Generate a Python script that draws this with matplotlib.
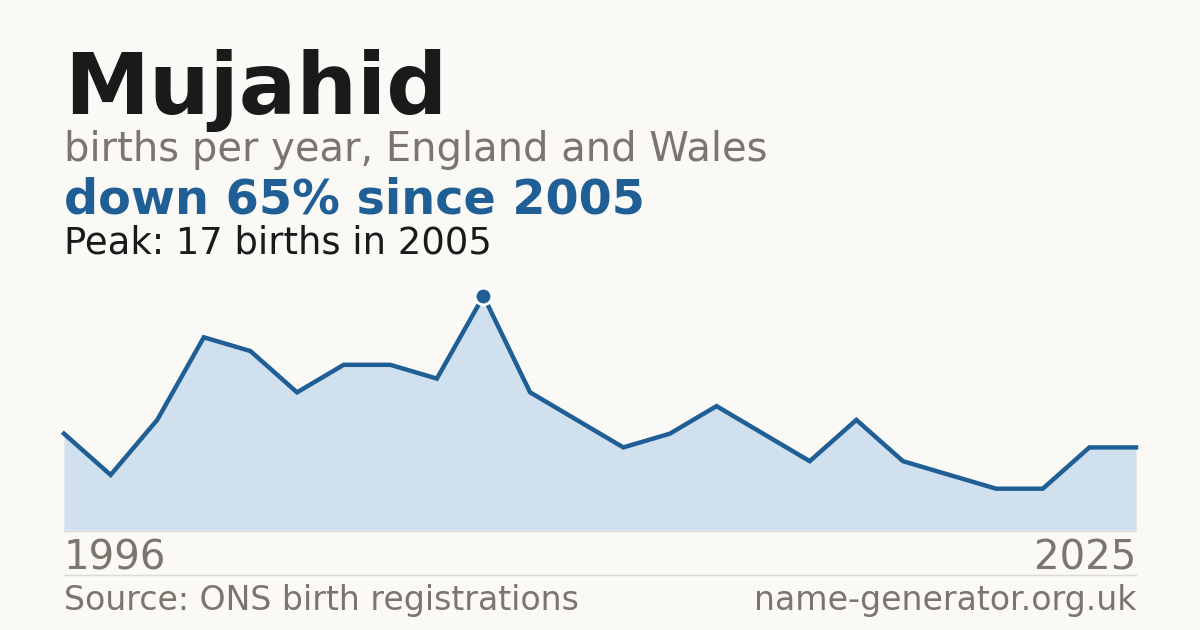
import matplotlib
matplotlib.use("Agg")
import matplotlib.pyplot as plt
from matplotlib.lines import Line2D

plt.rcParams['font.family'] = ['DejaVu Sans']

years = list(range(1996, 2020))
births = [7, 4, 8, 14, 13, 10, 12, 12, 11, 17, 10, 8, 6, 7, 9, 7, 5, 8, 5, 4, 3, 3, 6, 6]
first_label = "1996"
last_label = "2025"
peak_idx = births.index(max(births))

BG = "#faf9f5"
BLUE = "#1f5f96"
FILL = "#d0e0ef"
GREY = "#7a756d"
DARK = "#1a1a1a"

W, H = 1200, 630
fig = plt.figure(figsize=(12, 6.3), dpi=100, facecolor=BG)

def fy(px):
    return 1 - px / H

ax = fig.add_axes([64 / W, (H - 530) / H, 1072 / W, 234 / H])
ax.set_facecolor(BG)
xs = list(range(len(births)))
ax.fill_between(xs, births, 0, color=FILL, lw=0)
ax.plot(xs, births, color=BLUE, lw=3.2, solid_joinstyle="miter", clip_on=False)
ax.plot([peak_idx], [births[peak_idx]], "o", ms=12, mfc=BLUE, mec="white", mew=2, clip_on=False, zorder=5)
ax.set_xlim(0, len(births) - 1)
ax.set_ylim(0, max(births))
ax.axis("off")

fig.add_artist(Line2D([64 / W, 1136 / W], [fy(530.5), fy(530.5)], color="#dcdad4", lw=1))
fig.add_artist(Line2D([64 / W, 1136 / W], [fy(574.5), fy(574.5)], color="#dcdad4", lw=1))

fig.text(64 / W, fy(114), "Mujahid", fontsize=61.5, fontweight="bold", color=DARK, va="baseline", ha="left")
fig.text(64 / W, fy(161), "births per year, England and Wales", fontsize=28.8, color=GREY, va="baseline", ha="left")
fig.text(64 / W, fy(214), "down 65% since 2005", fontsize=34.4, fontweight="bold", color=BLUE, va="baseline", ha="left")
fig.text(64 / W, fy(254), "Peak: 17 births in 2005", fontsize=26.6, color=DARK, va="baseline", ha="left")
fig.text(64 / W, fy(570), first_label, fontsize=29, color=GREY, va="baseline", ha="left")
fig.text(1136 / W, fy(570), last_label, fontsize=29, color=GREY, va="baseline", ha="right")
fig.text(64 / W, fy(610), "Source: ONS birth registrations", fontsize=23.9, color=GREY, va="baseline", ha="left")
fig.text(1136 / W, fy(610), "name-generator.org.uk", fontsize=23.9, color=GREY, va="baseline", ha="right")

fig.savefig("out.png", dpi=100, facecolor=BG)
